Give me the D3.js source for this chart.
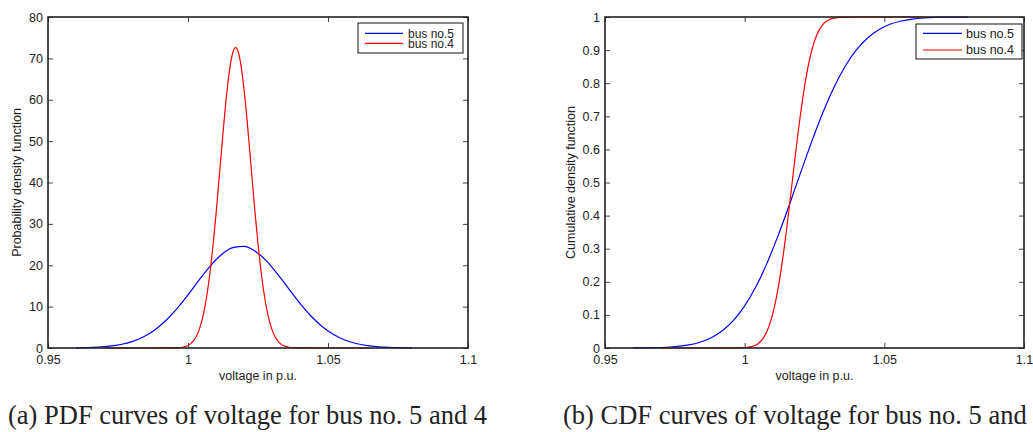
<!DOCTYPE html>
<html>
<head>
<meta charset="utf-8">
<script src="https://cdn.jsdelivr.net/npm/d3@7"></script>
<style>
  html, body { margin: 0; padding: 0; background: #fff; overflow: hidden; }
  svg { display: block; }
  .tick text { font-family: "Liberation Sans", Arial, sans-serif; font-size: 12.5px; fill: #222; }
</style>
</head>
<body>
<svg id="chart" width="1033" height="432"></svg>
<script>
// ---- data ----
const xTicks = [0.95, 1, 1.05, 1.1];
const xTickLabels = ["0.95", "1", "1.05", "1.1"];
const pdfYTicks = [0, 10, 20, 30, 40, 50, 60, 70, 80];
const pdfYTickLabels = ["0", "10", "20", "30", "40", "50", "60", "70", "80"];
const cdfYTicks = [0, 0.1, 0.2, 0.3, 0.4, 0.5, 0.6, 0.7, 0.8, 0.9, 1];
const cdfYTickLabels = ["0", "0.1", "0.2", "0.3", "0.4", "0.5", "0.6", "0.7", "0.8", "0.9", "1"];
const seriesNames = ["bus no.5", "bus no.4"];
const seriesColors = ["#0000ff", "#ff0000"];

const bus5V = [0.960, 0.964, 0.968, 0.972, 0.976, 0.980, 0.984, 0.988, 0.992, 0.996,
               1.000, 1.004, 1.008, 1.012, 1.016, 1.020, 1.024, 1.028, 1.032, 1.036,
               1.040, 1.044, 1.048, 1.052, 1.056, 1.060, 1.064, 1.068, 1.072, 1.076, 1.080];
const bus5Pdf = [0.043, 0.099, 0.215, 0.441, 0.851, 1.55, 2.66, 4.31, 6.58, 9.47,
                 12.86, 16.46, 19.86, 22.60, 24.25, 24.54, 23.41, 21.06, 17.86, 14.29,
                 10.78, 7.67, 5.14, 3.25, 1.94, 1.09, 0.578, 0.289, 0.136, 0.060, 0.025];
const bus5Cdf = [0.0002, 0.0005, 0.0010, 0.0023, 0.0047, 0.0093, 0.0175, 0.0310, 0.0522, 0.0835,
                 0.1273, 0.1849, 0.2564, 0.3402, 0.4326, 0.5290, 0.6236, 0.7114, 0.7881, 0.8514,
                 0.9006, 0.9366, 0.9616, 0.9779, 0.9879, 0.9937, 0.9969, 0.9986, 0.9994, 0.9997, 0.9999];

const bus4V = [0.970, 0.985,
               0.997, 0.998, 0.999, 1.000, 1.001, 1.002, 1.003, 1.004, 1.005, 1.006,
               1.007, 1.008, 1.009, 1.010, 1.011, 1.012, 1.013, 1.014, 1.015, 1.016,
               1.017, 1.018, 1.019, 1.020, 1.021, 1.022, 1.023, 1.024, 1.025, 1.026,
               1.027, 1.028, 1.029, 1.030, 1.031, 1.032, 1.033, 1.034, 1.035, 1.036, 1.037,
               1.050, 1.065];
const bus4Pdf = [0, 0,
                 0.098, 0.186, 0.343, 0.611, 1.055, 1.76, 2.84, 4.45, 6.72, 9.83,
                 13.90, 19.03, 25.21, 32.30, 40.05, 48.03, 55.73, 62.57, 67.95, 71.41,
                 72.6, 71.41, 67.95, 62.57, 55.73, 48.03, 40.05, 32.30, 25.21, 19.03,
                 13.90, 9.83, 6.72, 4.45, 2.84, 1.76, 1.055, 0.611, 0.343, 0.186, 0.098,
                 0, 0];
const bus4Cdf = [0, 0,
                 0.0001, 0.0003, 0.0005, 0.0010, 0.0018, 0.0032, 0.0055, 0.0090, 0.0146, 0.0228,
                 0.0345, 0.0509, 0.0729, 0.1016, 0.1377, 0.1817, 0.2335, 0.2927, 0.3580, 0.4279,
                 0.5000, 0.5721, 0.6420, 0.7073, 0.7665, 0.8183, 0.8623, 0.8984, 0.9271, 0.9491,
                 0.9655, 0.9772, 0.9854, 0.9910, 0.9945, 0.9968, 0.9982, 0.9990, 0.9995, 0.9997, 0.9999,
                 1, 1];

const captions = ["(a) PDF curves of voltage for bus no. 5 and 4",
                  "(b) CDF curves of voltage for bus no. 5 and 4"];
const yLabels = ["Probability density function", "Cumulative density function"];
const xLabel = "voltage in p.u.";

// ---- drawing ----
const svg = d3.select("#chart");
const sansFont = "'Liberation Sans', Arial, sans-serif";
const axisColor = "#222";

function drawPanel(cfg) {
  const x = d3.scaleLinear().domain([0.95, 1.1]).range([cfg.left, cfg.right]);
  const y = d3.scaleLinear().domain(cfg.yDomain).range([cfg.bottom, cfg.top]);
  const g = svg.append("g");

  const line = d3.line().x(d => x(d[0])).y(d => y(d[1])).curve(d3.curveMonotoneX);
  cfg.series.forEach((s, i) => {
    g.append("path")
      .datum(d3.zip(s.v, s.y))
      .attr("d", line)
      .attr("fill", "none")
      .attr("stroke", seriesColors[i])
      .attr("stroke-width", 1.2);
  });

  // axes (MATLAB style: ticks inside, box around)
  const bottom = g.append("g").attr("transform", `translate(0,${cfg.bottom})`)
    .call(d3.axisBottom(x).tickValues(xTicks).tickFormat((d, i) => xTickLabels[i])
      .tickSizeInner(-5).tickSizeOuter(0).tickPadding(7));
  const top = g.append("g").attr("transform", `translate(0,${cfg.top})`)
    .call(d3.axisTop(x).tickValues(xTicks).tickFormat("").tickSizeInner(-5).tickSizeOuter(0));
  const left = g.append("g").attr("transform", `translate(${cfg.left},0)`)
    .call(d3.axisLeft(y).tickValues(cfg.yTicks).tickFormat((d, i) => cfg.yTickLabels[i])
      .tickSizeInner(-5).tickSizeOuter(0).tickPadding(5));
  const right = g.append("g").attr("transform", `translate(${cfg.right},0)`)
    .call(d3.axisRight(y).tickValues(cfg.yTicks).tickFormat("").tickSizeInner(-5).tickSizeOuter(0));
  [bottom, top, left, right].forEach(a => {
    a.select(".domain").remove();
    a.selectAll(".tick line").attr("stroke", "#444").attr("stroke-width", 1);
  });

  g.append("rect")
    .attr("x", cfg.left).attr("y", cfg.top)
    .attr("width", cfg.right - cfg.left).attr("height", cfg.bottom - cfg.top)
    .attr("fill", "none").attr("stroke", axisColor).attr("stroke-width", 1.6);

  // x label
  g.append("text")
    .attr("x", (cfg.left + cfg.right) / 2).attr("y", 379.5)
    .attr("text-anchor", "middle")
    .attr("font-family", sansFont).attr("font-size", 12.5).attr("fill", "#222")
    .text(xLabel);
  // y label
  g.append("text")
    .attr("transform", `translate(${cfg.yLabelX},${(cfg.top + cfg.bottom) / 2}) rotate(-90)`)
    .attr("text-anchor", "middle")
    .attr("font-family", sansFont).attr("font-size", 12.5).attr("fill", "#222")
    .text(cfg.yLabel);

  // legend
  const lg = cfg.legend;
  g.append("rect")
    .attr("x", lg.x0).attr("y", lg.y0)
    .attr("width", lg.x1 - lg.x0).attr("height", lg.y1 - lg.y0)
    .attr("fill", "#fff").attr("stroke", "#111").attr("stroke-width", 1);
  seriesNames.forEach((name, i) => {
    const yy = lg.rows[i];
    g.append("line")
      .attr("x1", lg.lineX0).attr("x2", lg.lineX1).attr("y1", yy).attr("y2", yy)
      .attr("stroke", seriesColors[i]).attr("stroke-width", 1.2);
    g.append("text")
      .attr("x", lg.textX).attr("y", yy + 4.3)
      .attr("font-family", sansFont).attr("font-size", lg.fontSize).attr("fill", "#222")
      .text(name);
  });

  // caption
  g.append("text")
    .attr("x", cfg.captionX).attr("y", 424)
    .attr("font-family", "'Liberation Serif', 'Times New Roman', serif")
    .attr("font-size", 26.5).attr("fill", "#222")
    .text(cfg.caption);
}

drawPanel({
  left: 48, right: 468, top: 17, bottom: 348,
  yDomain: [0, 80], yTicks: pdfYTicks, yTickLabels: pdfYTickLabels,
  series: [{ v: bus5V, y: bus5Pdf }, { v: bus4V, y: bus4Pdf }],
  yLabel: yLabels[0], yLabelX: 21,
  legend: { x0: 358, x1: 463, y0: 23, y1: 53, lineX0: 365, lineX1: 403, textX: 408, rows: [33.3, 43.3], fontSize: 12 },
  caption: captions[0], captionX: 8
});

drawPanel({
  left: 605, right: 1024, top: 17, bottom: 348,
  yDomain: [0, 1], yTicks: cdfYTicks, yTickLabels: cdfYTickLabels,
  series: [{ v: bus5V, y: bus5Cdf }, { v: bus4V, y: bus4Cdf }],
  yLabel: yLabels[1], yLabelX: 575,
  legend: { x0: 916, x1: 1022, y0: 24, y1: 59, lineX0: 923, lineX1: 962, textX: 966, rows: [33.3, 50], fontSize: 12.5 },
  caption: captions[1], captionX: 563
});
</script>
</body>
</html>
